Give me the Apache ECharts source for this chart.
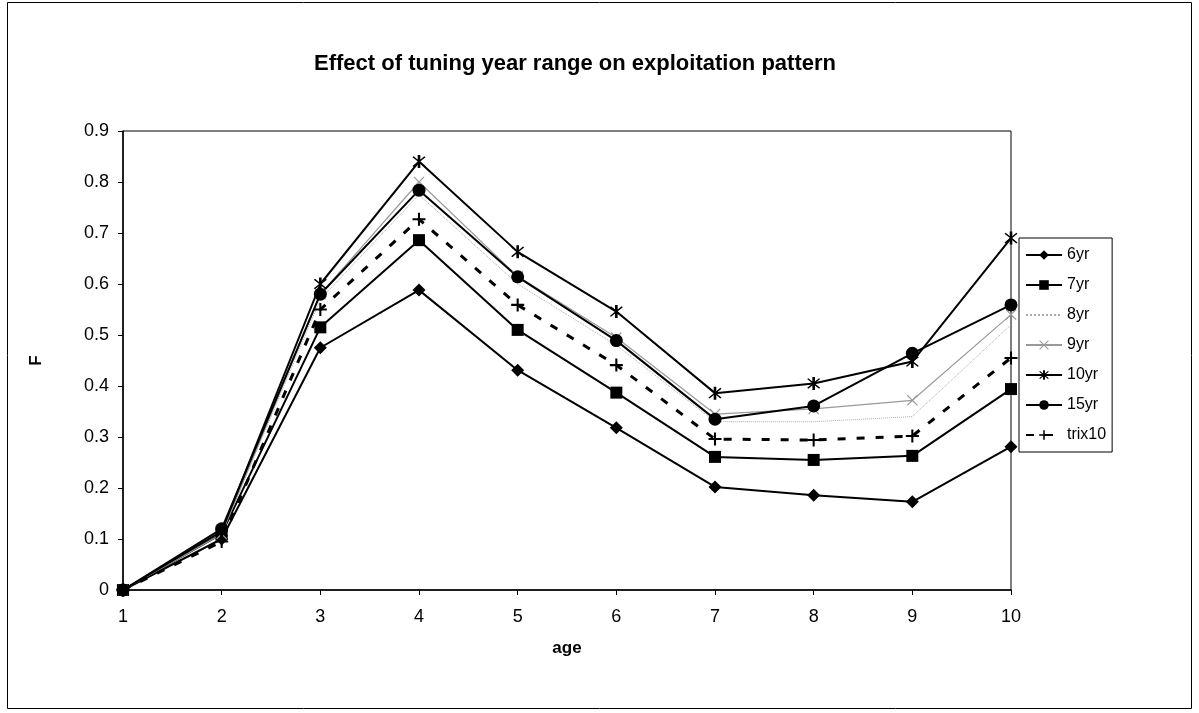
<!DOCTYPE html>
<html>
<head>
<meta charset="utf-8">
<script src="https://cdn.jsdelivr.net/npm/echarts@6/dist/echarts.min.js"></script>
<style>
html,body{margin:0;padding:0;background:#fff;}
#c{width:1199px;height:713px;}
</style>
</head>
<body>
<div id="c"></div>
<script>
const ages = ['1','2','3','4','5','6','7','8','9','10'];
const yr6   = [0, 0.10, 0.475, 0.588, 0.431, 0.318, 0.202, 0.186, 0.173, 0.281];
const yr7   = [0, 0.11, 0.515, 0.686, 0.510, 0.387, 0.261, 0.255, 0.263, 0.394];
const yr8   = [0, 0.11, 0.570, 0.775, 0.600, 0.480, 0.330, 0.330, 0.340, 0.520];
const yr9   = [0, 0.11, 0.580, 0.800, 0.615, 0.495, 0.345, 0.355, 0.372, 0.540];
const yr10  = [0, 0.115, 0.600, 0.840, 0.663, 0.546, 0.386, 0.405, 0.448, 0.690];
const yr15  = [0, 0.12, 0.580, 0.784, 0.614, 0.489, 0.335, 0.361, 0.464, 0.559];
const trix10= [0, 0.095, 0.550, 0.727, 0.559, 0.441, 0.296, 0.294, 0.302, 0.455];

const PLUS = 'path://M-0.8,-5L0.8,-5L0.8,-0.8L5,-0.8L5,0.8L0.8,0.8L0.8,5L-0.8,5L-0.8,0.8L-5,0.8L-5,-0.8L-0.8,-0.8Z';
const XSYM = 'path://M-4.5,-3.8L-3.8,-4.5L0,-0.7L3.8,-4.5L4.5,-3.8L0.7,0L4.5,3.8L3.8,4.5L0,0.7L-3.8,4.5L-4.5,3.8L-0.7,0Z';
const STAR = 'path://M-4.5,-3.7L-3.7,-4.5L0,-0.8L3.7,-4.5L4.5,-3.7L0.8,0L4.5,3.7L3.7,4.5L0,0.8L-3.7,4.5L-4.5,3.7L-0.8,0ZM-0.9,-5.5L0.9,-5.5L0.9,5.5L-0.9,5.5Z';

const font = 'Liberation Sans, Arial, sans-serif';
function mk(name, data, opt) {
  return Object.assign({
    name: name, type: 'line', data: data, symbolSize: 10,
    lineStyle: {color: '#000', width: 2},
    itemStyle: {color: '#000'},
    animation: false
  }, opt);
}
const chart = echarts.init(document.getElementById('c'));
chart.setOption({
  backgroundColor: '#fff',
  animation: false,
  title: {
    text: 'Effect of tuning year range on exploitation pattern',
    left: 570, top: 48, textAlign: 'center',
    textStyle: {fontFamily: font, fontSize: 22, fontWeight: 'bold', color: '#000'}
  },
  grid: {left: 123, right: 188, top: 131, bottom: 123, show: true, borderColor: '#000', borderWidth: 1},
  xAxis: {
    type: 'category', data: ages, boundaryGap: false,
    name: 'age', nameLocation: 'middle', nameGap: 50,
    nameTextStyle: {fontFamily: font, fontSize: 17, fontWeight: 'bold', color: '#000'},
    axisLine: {lineStyle: {color: '#000', width: 1.5}},
    axisTick: {show: true, length: 5, lineStyle: {color: '#000'}},
    axisLabel: {fontFamily: font, fontSize: 18, color: '#000', margin: 18},
    splitLine: {show: false}
  },
  yAxis: {
    type: 'value', min: 0, max: 0.9, interval: 0.1,
    name: 'F', nameLocation: 'middle', nameGap: 78, nameRotate: 90,
    nameTextStyle: {fontFamily: font, fontSize: 17, fontWeight: 'bold', color: '#000'},
    axisLine: {show: true, lineStyle: {color: '#000', width: 1.5}},
    axisTick: {show: true, length: 5, lineStyle: {color: '#000'}},
    axisLabel: {fontFamily: font, fontSize: 18, color: '#000', margin: 14,
      formatter: v => (Math.round(v*10)/10).toString()},
    splitLine: {show: false}
  },
  legend: {
    orient: 'vertical', left: 1019, top: 238,
    itemWidth: 36, itemHeight: 12, itemGap: 14,
    padding: [9, 6, 9, 6],
    borderColor: '#000', borderWidth: 1,
    textStyle: {fontFamily: font, fontSize: 16, color: '#000'},
    data: ['6yr','7yr','8yr','9yr','10yr','15yr','trix10']
  },
  graphic: [{
    type: 'rect', shape: {x: 7.5, y: 2.5, width: 1184, height: 706},
    style: {fill: 'none', stroke: '#000', lineWidth: 1}, silent: true
  }],
  series: [
    mk('6yr', yr6, {symbol: 'diamond', symbolSize: 13}),
    mk('7yr', yr7, {symbol: 'rect', symbolSize: 12}),
    mk('8yr', yr8, {symbol: 'circle', symbolSize: 1, lineStyle: {color: '#aaa', width: 1, type: 'dotted'}, itemStyle: {color: 'rgba(0,0,0,0)'}}),
    mk('9yr', yr9, {symbol: XSYM, symbolSize: 11, lineStyle: {color: '#999', width: 1.2}, itemStyle: {color: '#999'}}),
    mk('10yr', yr10, {symbol: STAR, symbolSize: 13}),
    mk('15yr', yr15, {symbol: 'circle', symbolSize: 13}),
    mk('trix10', trix10, {symbol: PLUS, symbolSize: 13, lineStyle: {color: '#000', width: 3, type: [8, 11]}})
  ]
});
</script>
</body>
</html>
